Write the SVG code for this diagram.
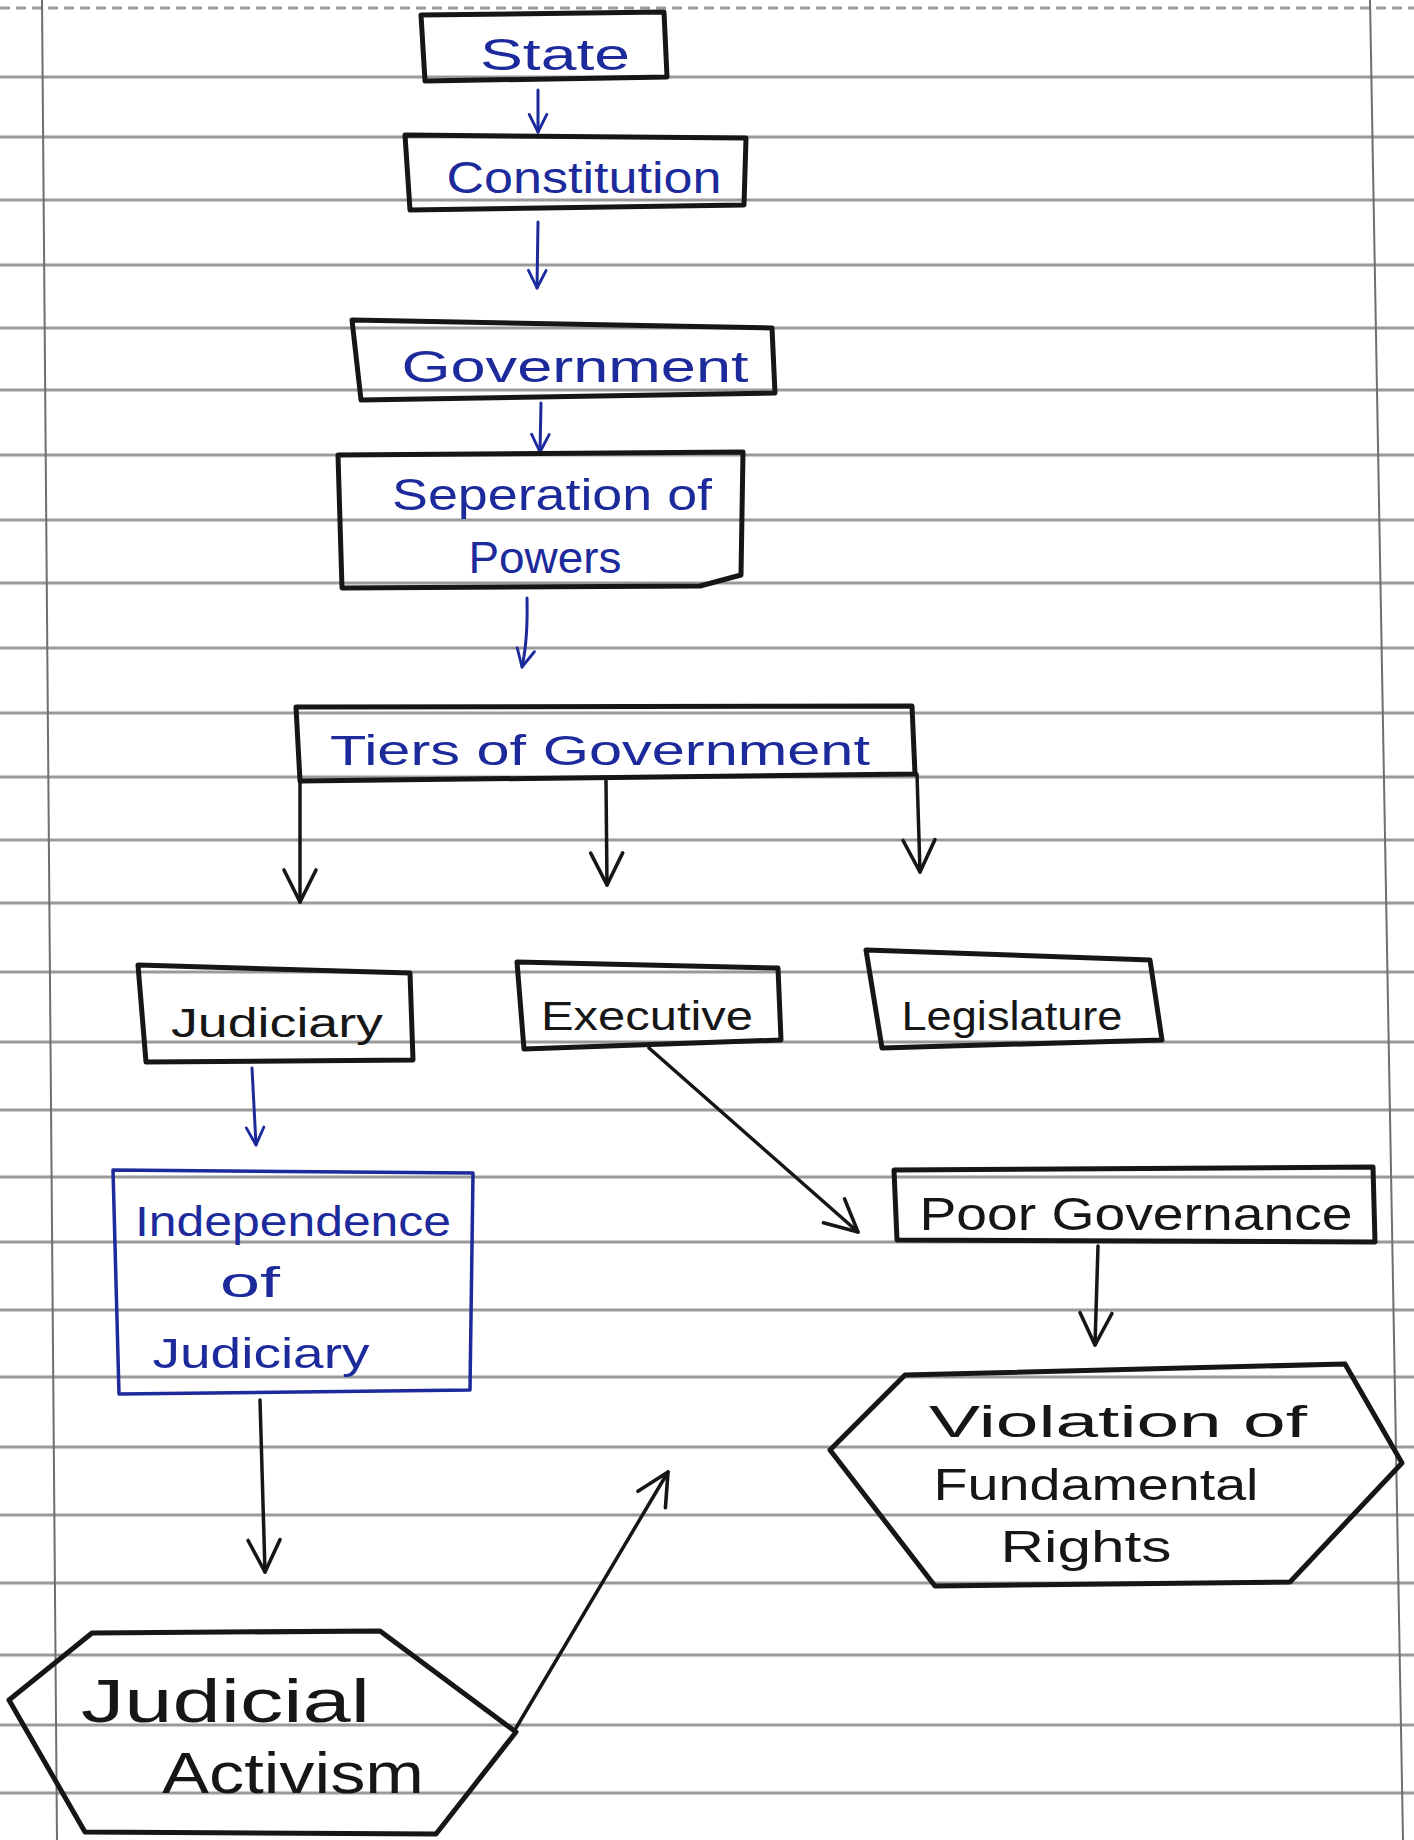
<svg xmlns="http://www.w3.org/2000/svg" width="1414" height="1840" viewBox="0 0 1414 1840">
<defs>
<style>
.paper{stroke:#9a9a9a;stroke-width:3;fill:none}
.margin{stroke:#6f6f6f;stroke-width:2;fill:none}
.box{fill:none;stroke:#161616;stroke-width:5;stroke-linejoin:round}
.bbox{fill:none;stroke:#1c2a9c;stroke-width:3.5;stroke-linejoin:round}
.bt{fill:#1c2a9c;font-family:"Liberation Sans",Arial,sans-serif;text-anchor:middle}
.kt{fill:#161616;font-family:"Liberation Sans",Arial,sans-serif;text-anchor:middle}
.kc{fill:none;stroke:#161616;stroke-width:3.5;stroke-linecap:round}
.bc{fill:none;stroke:#1c2a9c;stroke-width:3;stroke-linecap:round}
</style>
<marker id="ak" viewBox="0 0 20 20" refX="18" refY="10" markerWidth="40" markerHeight="40" markerUnits="userSpaceOnUse" orient="auto">
<path d="M2,2 L18,10 L2,18" fill="none" stroke="#161616" stroke-width="1.8" stroke-linecap="round" stroke-linejoin="round"/>
</marker>
<marker id="ab" viewBox="0 0 20 20" refX="18" refY="10" markerWidth="22" markerHeight="22" markerUnits="userSpaceOnUse" orient="auto">
<path d="M2,2 L18,10 L2,18" fill="none" stroke="#1c2a9c" stroke-width="2.6" stroke-linecap="round" stroke-linejoin="round"/>
</marker>
</defs>
<rect width="1414" height="1840" fill="#ffffff"/>
<g id="paper">
<path class="paper" d="M0,8 H1414" stroke-dasharray="10 6"/>
<path class="paper" d="M0,77 H1414"/>
<path class="paper" d="M0,137 H1414"/>
<path class="paper" d="M0,200 H1414"/>
<path class="paper" d="M0,265 H1414"/>
<path class="paper" d="M0,328 H1414"/>
<path class="paper" d="M0,390 H1414"/>
<path class="paper" d="M0,455 H1414"/>
<path class="paper" d="M0,520 H1414"/>
<path class="paper" d="M0,583 H1414"/>
<path class="paper" d="M0,648 H1414"/>
<path class="paper" d="M0,713 H1414"/>
<path class="paper" d="M0,777 H1414"/>
<path class="paper" d="M0,840 H1414"/>
<path class="paper" d="M0,903 H1414"/>
<path class="paper" d="M0,972 H1414"/>
<path class="paper" d="M0,1042 H1414"/>
<path class="paper" d="M0,1110 H1414"/>
<path class="paper" d="M0,1177 H1414"/>
<path class="paper" d="M0,1242 H1414"/>
<path class="paper" d="M0,1310 H1414"/>
<path class="paper" d="M0,1377 H1414"/>
<path class="paper" d="M0,1447 H1414"/>
<path class="paper" d="M0,1515 H1414"/>
<path class="paper" d="M0,1583 H1414"/>
<path class="paper" d="M0,1655 H1414"/>
<path class="paper" d="M0,1725 H1414"/>
<path class="paper" d="M0,1793 H1414"/>
<path class="margin" d="M42,0 L57,1840"/>
<path class="margin" d="M1370,0 L1403,1840"/>
</g>
<g id="connectors">
<path class="bc" d="M538,90 L538,132" marker-end="url(#ab)"/>
<path class="bc" d="M538,222 L537,288" marker-end="url(#ab)"/>
<path class="bc" d="M541,403 L540,452" marker-end="url(#ab)"/>
<path class="bc" d="M527,598 Q528,640 522,667" marker-end="url(#ab)"/>
<path class="kc" d="M300,781 L300,902" marker-end="url(#ak)"/>
<path class="kc" d="M606,781 L607,885" marker-end="url(#ak)"/>
<path class="kc" d="M917,774 L920,872" marker-end="url(#ak)"/>
<path class="bc" d="M252,1068 L256,1145" marker-end="url(#ab)"/>
<path class="kc" d="M649,1048 L858,1232" marker-end="url(#ak)"/>
<path class="kc" d="M1098,1246 L1095,1345" marker-end="url(#ak)"/>
<path class="kc" d="M260,1400 L265,1572" marker-end="url(#ak)"/>
<path class="kc" d="M516,1728 L668,1472" marker-end="url(#ak)"/>
</g>
<g id="state">
<path class="box" d="M421,15 L664,12 L667,77 L425,81 Z"/>
<text class="bt" x="555" y="70" font-size="44" textLength="150" lengthAdjust="spacingAndGlyphs">State</text>
</g>
<g id="constitution">
<path class="box" d="M405,135 L746,138 L744,205 L410,210 Z"/>
<text class="bt" x="584" y="193" font-size="44" textLength="275" lengthAdjust="spacingAndGlyphs">Constitution</text>
</g>
<g id="government">
<path class="box" d="M352,320 L772,328 L775,393 L361,400 Z"/>
<text class="bt" x="575" y="382" font-size="44" textLength="347" lengthAdjust="spacingAndGlyphs">Government</text>
</g>
<g id="separation">
<path class="box" d="M338,455 L743,452 L741,575 L700,586 L342,588 Z"/>
<text class="bt" x="552" y="510" font-size="44" textLength="320" lengthAdjust="spacingAndGlyphs">Seperation of</text>
<text class="bt" x="545" y="573" font-size="44" textLength="153" lengthAdjust="spacingAndGlyphs">Powers</text>
</g>
<g id="tiers">
<path class="box" d="M296,707 L912,706 L915,774 L300,781 Z"/>
<text class="bt" x="600" y="765" font-size="42" textLength="540" lengthAdjust="spacingAndGlyphs">Tiers of Government</text>
</g>
<g id="judiciary">
<path class="box" d="M138,965 L410,973 L413,1060 L146,1062 Z"/>
<text class="kt" x="277" y="1037" font-size="40" textLength="212" lengthAdjust="spacingAndGlyphs">Judiciary</text>
</g>
<g id="executive">
<path class="box" d="M517,962 L778,968 L781,1040 L524,1049 Z"/>
<text class="kt" x="647" y="1030" font-size="40" textLength="212" lengthAdjust="spacingAndGlyphs">Executive</text>
</g>
<g id="legislature">
<path class="box" d="M866,950 L1150,960 L1162,1040 L882,1048 Z"/>
<text class="kt" x="1012" y="1030" font-size="40" textLength="221" lengthAdjust="spacingAndGlyphs">Legislature</text>
</g>
<g id="independence">
<path class="bbox" d="M113,1170 L473,1173 L470,1390 L119,1394 Z"/>
<text class="bt" x="293" y="1236" font-size="42" textLength="316" lengthAdjust="spacingAndGlyphs">Independence</text>
<text class="bt" x="250" y="1297" font-size="42" textLength="60" lengthAdjust="spacingAndGlyphs">of</text>
<text class="bt" x="261" y="1368" font-size="42" textLength="217" lengthAdjust="spacingAndGlyphs">Judiciary</text>
</g>
<g id="poor-governance">
<path class="box" d="M894,1170 L1373,1167 L1375,1242 L897,1240 Z"/>
<text class="kt" x="1136" y="1230" font-size="46" textLength="433" lengthAdjust="spacingAndGlyphs">Poor Governance</text>
</g>
<g id="violation">
<path class="box" d="M830,1450 L905,1375 L1345,1364 L1402,1463 L1290,1582 L935,1586 Z"/>
<text class="kt" x="1118" y="1437" font-size="44" textLength="378" lengthAdjust="spacingAndGlyphs">Violation of</text>
<text class="kt" x="1096" y="1500" font-size="44" textLength="325" lengthAdjust="spacingAndGlyphs">Fundamental</text>
<text class="kt" x="1086" y="1562" font-size="44" textLength="171" lengthAdjust="spacingAndGlyphs">Rights</text>
</g>
<g id="judicial-activism">
<path class="box" d="M9,1700 L92,1633 L380,1631 L516,1732 L436,1834 L85,1832 Z"/>
<text class="kt" x="81" y="1722" font-size="62" text-anchor="start" style="text-anchor:start" textLength="289" lengthAdjust="spacingAndGlyphs">Judicial</text>
<text class="kt" x="162" y="1793" font-size="58" style="text-anchor:start" textLength="262" lengthAdjust="spacingAndGlyphs">Activism</text>
</g>
</svg>
